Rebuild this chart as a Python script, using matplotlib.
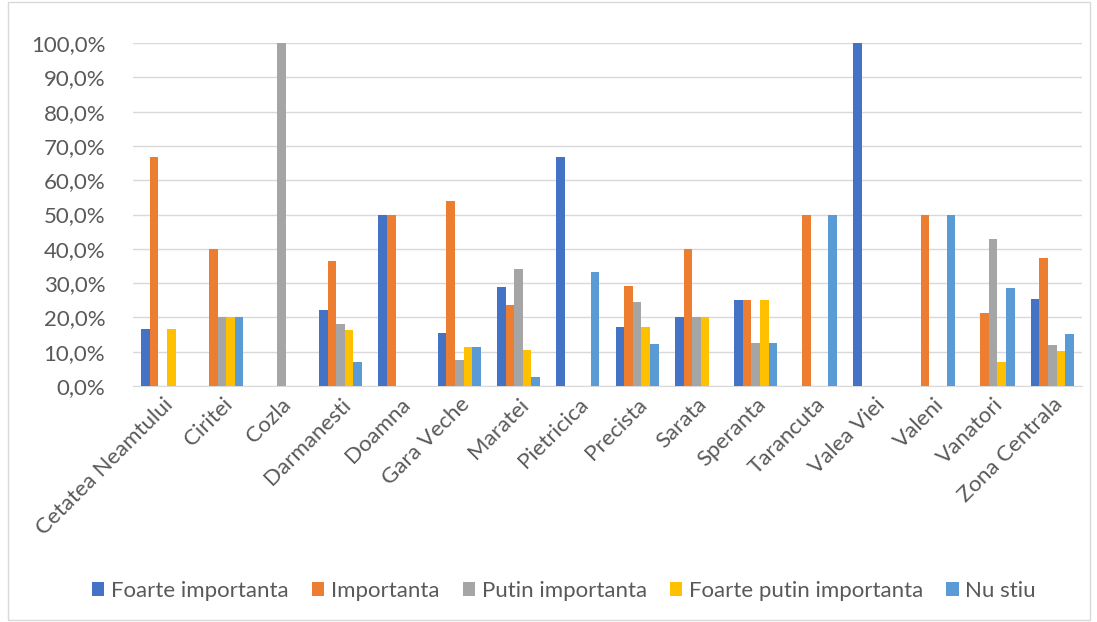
import matplotlib
matplotlib.use("Agg")
import matplotlib.pyplot as plt
import numpy as np
from matplotlib.ticker import FuncFormatter
from matplotlib.patches import Rectangle

categories = ["Cetatea Neamtului", "Ciritei", "Cozla", "Darmanesti", "Doamna",
              "Gara Veche", "Maratei", "Pietricica", "Precista", "Sarata",
              "Speranta", "Tarancuta", "Valea Viei", "Valeni", "Vanatori",
              "Zona Centrala"]
series_names = ["Foarte importanta", "Importanta", "Putin importanta",
                "Foarte putin importanta", "Nu stiu"]
foarte_importanta = [16.7, 0, 0, 22.2, 50, 15.4, 28.9, 66.7, 17.1, 20, 25, 0, 100, 0, 0, 25.4]
importanta = [66.7, 40, 0, 36.4, 50, 53.8, 23.7, 0, 29.3, 40, 25, 50, 0, 50, 21.4, 37.3]
putin_importanta = [0, 20, 100, 18.2, 0, 7.7, 34.2, 0, 24.4, 20, 12.5, 0, 0, 0, 42.9, 11.9]
foarte_putin = [16.7, 20, 0, 16.2, 0, 11.5, 10.5, 0, 17.1, 20, 25, 0, 0, 0, 7.1, 10.2]
nu_stiu = [0, 20, 0, 7.0, 0, 11.5, 2.6, 33.3, 12.2, 0, 12.5, 50, 0, 50, 28.6, 15.3]
colors = ["#4472C4", "#ED7D31", "#A5A5A5", "#FFC000", "#5B9BD5"]

series = [foarte_importanta, importanta, putin_importanta, foarte_putin, nu_stiu]

plt.rcParams['font.family'] = ['Lato', 'DejaVu Sans']
fig = plt.figure(figsize=(10.97, 6.22), dpi=100)
ax = fig.add_axes([133/1097, 1 - 386/622, (1082-133)/1097, (386-43)/622])

x = np.arange(len(categories))
w = 0.145
for i, (vals, c, name) in enumerate(zip(series, colors, series_names)):
    ax.bar(x + (i - 2) * w, vals, width=w, color=c, label=name, zorder=3)

ax.set_xlim(-0.5, len(categories) - 0.5)
ax.set_ylim(0, 100)
ax.set_yticks(np.arange(0, 101, 10))
ax.yaxis.set_major_formatter(FuncFormatter(lambda v, p: f"{v:.1f}%".replace(".", ",")))
ax.grid(axis="y", color="#D9D9D9", linewidth=1, zorder=0)
for s in ["top", "right", "left"]:
    ax.spines[s].set_visible(False)
ax.spines["bottom"].set_color("#D9D9D9")
ax.tick_params(axis="y", length=0, labelsize=16, labelcolor="#595959", pad=20)
ax.tick_params(axis="x", length=0, labelsize=16, labelcolor="#595959", pad=6)
ax.set_xticks(x)
ax.set_xticklabels(categories, rotation=45, ha="right", rotation_mode="anchor")

leg = fig.legend(loc="center", bbox_to_anchor=(564/1097, 1 - 591/622), ncol=5, frameon=False,
                 fontsize=16, handlelength=0.55, handleheight=0.55, columnspacing=1.05,
                 handletextpad=0.3)
for t in leg.get_texts():
    t.set_color("#595959")

fig.patches.append(Rectangle((8/1097, 2/622), (1090-8)/1097, (620-2)/622, transform=fig.transFigure,
                             fill=False, edgecolor="#D9D9D9", linewidth=1))
fig.savefig("out.png", dpi=100)
